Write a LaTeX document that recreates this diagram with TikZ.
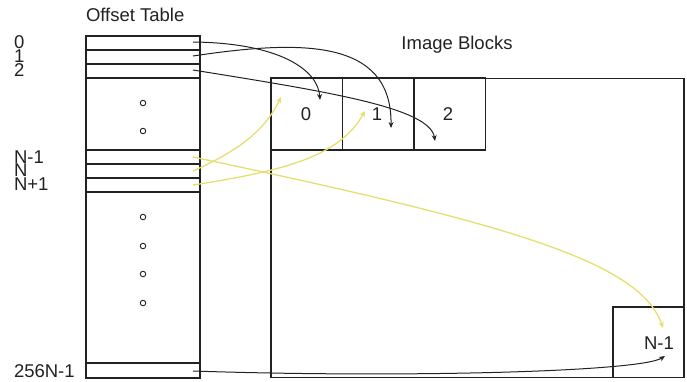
\documentclass[tikz,border=0pt]{standalone}
\usepackage{fontspec}
\setmainfont{Liberation Sans}
\usetikzlibrary{arrows.meta}
\definecolor{ink}{RGB}{34,34,34}
\definecolor{ylw}{RGB}{230,222,110}
\begin{document}
\begin{tikzpicture}[x=1pt,y=-1pt,
  every node/.style={inner sep=0pt,outer sep=0pt,font=\fontsize{18.5}{18.5}\selectfont,text=ink},
  row/.style={draw=ink,line width=1.3pt,minimum width=114pt,anchor=north west},
  blk/.style={draw=ink,line width=1.1pt,minimum width=71.5pt,minimum height=72pt,anchor=north west},
  lbl/.style={anchor=west},
  dot/.style={circle,draw=ink,line width=0.9pt,minimum size=5.5pt},
  blkarrow/.style={draw=ink,line width=1pt,-{Stealth[length=6pt,width=5pt]}},
  ylwarrow/.style={draw=ylw,line width=1.3pt,-{Stealth[length=6pt,width=5.5pt]}}]
\useasboundingbox (0,0) rectangle (687,381);
% big image area
\node[draw=ink,line width=1.1pt,minimum width=413pt,minimum height=299pt,anchor=north west] (img) at (271,78.5) {};
% offset table
\node[row,minimum height=14pt] (r0) at (86,36) {};
\node[row,minimum height=14pt] (r1) at (86,50) {};
\node[row,minimum height=14pt] (r2) at (86,64) {};
\node[row,minimum height=72pt] (g1) at (86,78) {};
\node[row,minimum height=14pt] (rA) at (86,150) {};
\node[row,minimum height=14pt] (rB) at (86,164) {};
\node[row,minimum height=14pt] (rC) at (86,178) {};
\node[row,minimum height=171pt] (g2) at (86,192) {};
\node[row,minimum height=15pt] (rL) at (86,363) {};
% dots
\foreach \y/\n in {103/a,131/b,217/c,246/d,274/e,303/f}
  \node[dot] (dot\n) at (143,\y) {};
% titles
\node[anchor=west] (tOT) at (86,15) {Offset Table};
\node (tIB) at (457,45) {Image Blocks};
% row labels
\node[lbl] (l0) at (14,42) {0};
\node[lbl] (l1) at (14,56) {1};
\node[lbl] (l2) at (14,70) {2};
\node[lbl] (lA) at (14,157) {N-1};
\node[lbl] (lB) at (14,170) {N};
\node[lbl] (lC) at (14,184) {N+1};
\node[lbl] (lL) at (14,371) {256N-1};
% image blocks
\node[blk] (b0) at (271,78) {};
\node[blk] (b1) at (342.5,78) {};
\node[blk] (b2) at (414,78) {};
\node[draw=ink,line width=1.1pt,minimum width=71pt,minimum height=70.5pt,anchor=north west] (bN) at (613,307) {};
\node (b0t) at (306,114) {0};
\node (b1t) at (377,114) {1};
\node (b2t) at (448,114) {2};
\node (bNt) at (659,343) {N-1};
% connector endpoints
\coordinate (s0) at (193,42);
\coordinate (s1) at (193,56);
\coordinate (s2) at (193,70);
\coordinate (sA) at (193,157);
\coordinate (sB) at (193,171);
\coordinate (sC) at (193,185);
\coordinate (sL) at (193,371);
\coordinate (e0) at (320,100);
\coordinate (e1) at (391,128);
\coordinate (e2) at (435,141);
\coordinate (eL) at (665,356);
\coordinate (eA) at (663,328);
\coordinate (eB) at (281,97);
\coordinate (eC) at (365,111);
% black arrows
\draw[blkarrow] (s0) .. controls (280,43) and (318,70) .. (e0);
\draw[blkarrow] (s1) .. controls (300,40) and (392,38) .. (e1);
\draw[blkarrow] (s2) .. controls (330,92) and (430,108) .. (e2);
\draw[blkarrow] (sL) .. controls (400,378) and (640,372) .. (eL);
% yellow arrows
\draw[ylwarrow] (sA) .. controls (500,222) and (640,260) .. (eA);
\draw[ylwarrow] (sB) .. controls (240,150) and (265,130) .. (eB);
\draw[ylwarrow] (sC) .. controls (290,170) and (340,155) .. (eC);
\end{tikzpicture}
\end{document}
